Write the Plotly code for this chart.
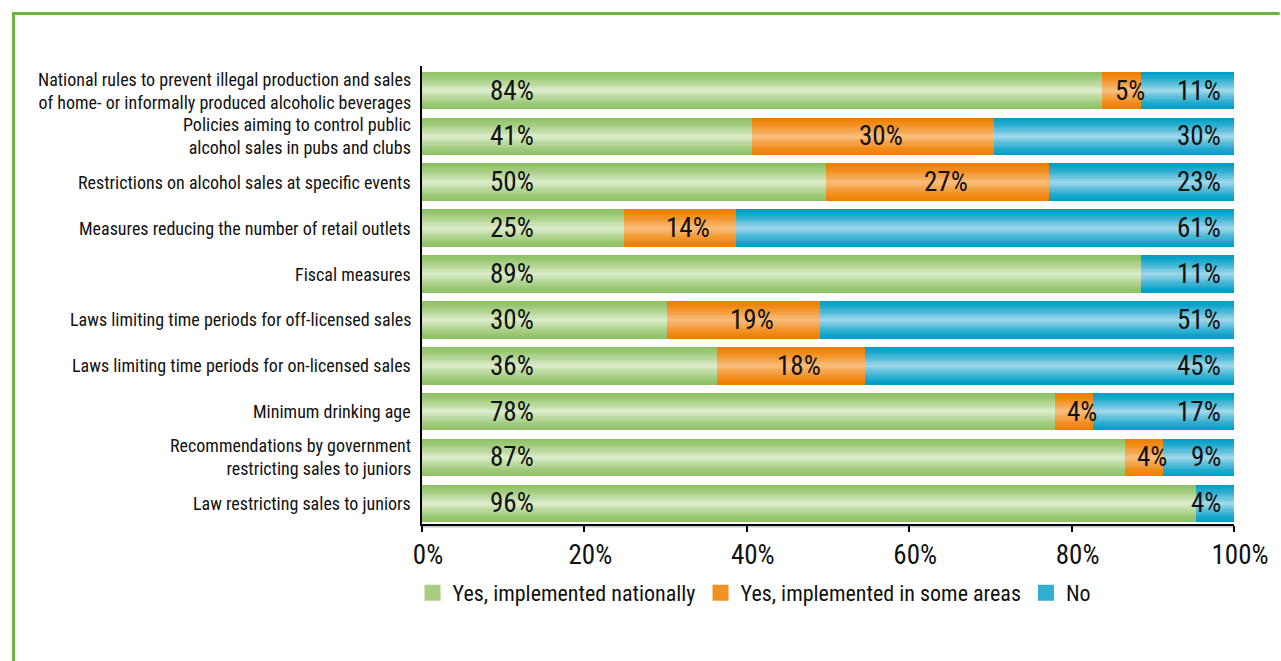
import plotly.graph_objects as go
import numpy as np

categories = [
    "National rules to prevent illegal production and sales<br>of home- or informally produced alcoholic beverages",
    "Policies aiming to control public<br>alcohol sales in pubs and clubs",
    "Restrictions on alcohol sales at specific events",
    "Measures reducing the number of retail outlets",
    "Fiscal measures",
    "Laws limiting time periods for off-licensed sales",
    "Laws limiting time periods for on-licensed sales",
    "Minimum drinking age",
    "Recommendations by government<br>restricting sales to juniors",
    "Law restricting sales to juniors",
]
series_names = ["Yes, implemented nationally", "Yes, implemented in some areas", "No"]
yes_national = [83.8, 40.7, 49.8, 24.9, 88.6, 30.2, 36.3, 78.0, 86.6, 95.3]
yes_some = [4.8, 29.7, 27.4, 13.8, 0.0, 18.8, 18.3, 4.6, 4.7, 0.0]
no_vals = [11.4, 29.6, 22.8, 61.3, 11.4, 51.0, 45.4, 17.4, 8.7, 4.7]
label_national = ["84%", "41%", "50%", "25%", "89%", "30%", "36%", "78%", "87%", "96%"]
label_some = ["5%", "30%", "27%", "14%", "", "19%", "18%", "4%", "4%", ""]
label_no = ["11%", "30%", "23%", "61%", "11%", "51%", "45%", "17%", "9%", "4%"]
tick_vals = [0, 20, 40, 60, 80, 100]
tick_text = ["0%", "20%", "40%", "60%", "80%", "100%"]

FONT = "Roboto Condensed, DejaVu Sans Condensed, sans-serif"
TXT = "#111111"
edge_cols = [(143, 194, 101), (238, 126, 0), (0, 158, 198)]
mid_cols = [(218, 235, 200), (249, 188, 120), (155, 214, 233)]

y = np.arange(len(categories))
vals = np.array([yes_national, yes_some, no_vals])
bases = np.vstack([np.zeros(len(categories)), np.cumsum(vals, axis=0)[:-1]])

BAR_W = 0.82
LEVELS = 16

def mix(a, b, t):
    return "rgb(%d,%d,%d)" % tuple(round(a[i] + (b[i] - a[i]) * t) for i in range(3))

fig = go.Figure()
for s in range(3):
    for k in range(LEVELS):
        t = k / (LEVELS - 1)
        w = BAR_W * (1 - k / LEVELS)
        fig.add_trace(go.Bar(
            y=y, x=vals[s], base=bases[s], orientation="h", width=w,
            marker=dict(color=mix(edge_cols[s], mid_cols[s], t ** 1.3), line=dict(width=0)),
            name=series_names[s], legendgroup=series_names[s],
            showlegend=False, hoverinfo="skip" if k else "x+y",
        ))
    # legend entry with a larger square swatch
    fig.add_trace(go.Scatter(
        x=[None], y=[None], mode="markers", name=series_names[s], legendgroup=series_names[s],
        marker=dict(symbol="square", size=16, color=mix(edge_cols[s], mid_cols[s], 0.3),
                    line=dict(width=0)),
        showlegend=True,
    ))

ann = []
for i, cat in enumerate(categories):
    ann.append(dict(x=0, xref="paper", y=i, yref="y", text=cat, showarrow=False,
                    xanchor="right", yanchor="middle", xshift=-9, align="right",
                    font=dict(family=FONT, size=18, color=TXT)))
VF = dict(family=FONT, size=27, color=TXT)
for i in range(len(categories)):
    ann.append(dict(x=0, y=i, text=label_national[i], showarrow=False, xanchor="left",
                    xshift=66, font=VF))
    if label_some[i]:
        ann.append(dict(x=bases[1][i] + vals[1][i] / 2, y=i, text=label_some[i], showarrow=False,
                        xanchor="center", xshift=8, font=VF))
    ann.append(dict(x=bases[2][i] + vals[2][i], y=i, text=label_no[i], showarrow=False,
                    xanchor="right", xshift=-11, font=VF))

W, H = 1281, 661
L, R, T, B = 422, 41, 66, 137
pw, ph = W - L - R, H - T - B
def px(xp):
    return (xp - L) / pw
def py(yp):
    return (H - B - yp) / ph

shapes = [
    dict(type="line", xref="paper", yref="paper", x0=px(9), x1=px(W + 5), y0=py(13.5), y1=py(13.5),
         line=dict(color="#6DB33F", width=3)),
    dict(type="line", xref="paper", yref="paper", x0=px(10.5), x1=px(10.5), y0=py(12), y1=py(H + 5),
         line=dict(color="#6DB33F", width=3)),
    dict(type="line", xref="paper", yref="paper", x0=0, x1=1, y0=py(526.5), y1=py(526.5),
         line=dict(color="#c8c8c8", width=2), layer="below"),
]

fig.update_layout(
    width=W, height=H, margin=dict(l=L, r=R, t=T, b=B),
    barmode="overlay", bargap=0,
    plot_bgcolor="white", paper_bgcolor="white",
    font=dict(family=FONT, color=TXT),
    xaxis=dict(range=[0, 100], tickvals=tick_vals, ticktext=tick_text, showgrid=False, zeroline=False,
               showline=True, linecolor="black", linewidth=2, ticks="outside", ticklen=6, tickwidth=2,
               tickcolor="black", tickfont=dict(family=FONT, size=27, color=TXT),
               ticklabelshift=6, fixedrange=True),
    yaxis=dict(range=[9.45, -0.535], showticklabels=False, showgrid=False, zeroline=False,
               showline=True, linecolor="black", linewidth=2, ticks="", fixedrange=True),
    legend=dict(orientation="h", x=px(412.5), xanchor="left", y=py(593), yanchor="middle",
                font=dict(family=FONT, size=22, color=TXT), traceorder="normal",
                bgcolor="rgba(0,0,0,0)", itemsizing="trace"),
    annotations=ann, shapes=shapes, showlegend=True,
)

fig.write_html("out.html", config={"displayModeBar": False},
               post_script="document.body.style.margin='0px';")
